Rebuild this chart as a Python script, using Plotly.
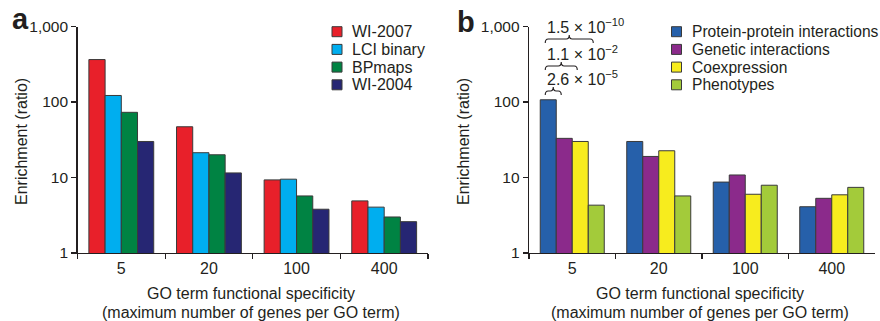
import plotly.graph_objects as go

W, H = 880, 321

categories = ["5", "20", "100", "400"]

# Panel a
series_a = ["WI-2007", "LCI binary", "BPmaps", "WI-2004"]
wi2007 = [365, 47, 9.3, 4.9]
lci_binary = [122, 21.3, 9.5, 4.05]
bpmaps = [73, 20, 5.7, 3.0]
wi2004 = [30, 11.5, 3.8, 2.6]
colors_a = ["#E8202A", "#00AEEF", "#008343", "#262673"]

# Panel b
series_b = ["Protein-protein interactions", "Genetic interactions", "Coexpression", "Phenotypes"]
ppi = [107, 30, 8.7, 4.1]
genetic = [33, 19, 10.8, 5.3]
coexpression = [30, 22.6, 6.0, 5.9]
phenotypes = [4.3, 5.7, 7.9, 7.4]
colors_b = ["#2660AA", "#8B2A8B", "#F7EC1E", "#A3CB3A"]

pvalues = ["2.6 × 10<sup>−5</sup>", "1.1 × 10<sup>−2</sup>", "1.5 × 10<sup>−10</sup>"]

ytickvals = [1, 10, 100, 1000]
yticktext = ["1", "10", "100", "1,000"]

FONT = "Liberation Sans, Arial, sans-serif"
TXT = "#231F20"
EDGE = "#3a3a3a"
BARGAP = 0.26

# pixel layout
ax_a = (77.5, 428.0)
ax_b = (529.0, 875.0)
y_top, y_bot = 26.5, 253.0


def px(x):
    return x / W


def py(y):
    return 1 - y / H


fig = go.Figure()

for name, vals, col in zip(series_a, [wi2007, lci_binary, bpmaps, wi2004], colors_a):
    fig.add_trace(go.Bar(x=categories, y=vals, name=name, marker_color=col,
                         marker_line_color=EDGE, marker_line_width=1,
                         xaxis="x", yaxis="y", showlegend=False))
for name, vals, col in zip(series_b, [ppi, genetic, coexpression, phenotypes], colors_b):
    fig.add_trace(go.Bar(x=categories, y=vals, name=name, marker_color=col,
                         marker_line_color=EDGE, marker_line_width=1,
                         xaxis="x2", yaxis="y2", showlegend=False))

xcommon = dict(type="category", tickson="boundaries", ticks="outside", ticklen=5,
               tickwidth=1.2, tickcolor=TXT, showline=True, linecolor=TXT, linewidth=1.3,
               showgrid=False, zeroline=False, tickfont=dict(size=16, color=TXT, family=FONT),
               fixedrange=True)
ycommon = dict(type="log", range=[0, 3], tickvals=ytickvals, ticktext=yticktext,
               ticks="outside", ticklen=5, tickwidth=1.2, tickcolor=TXT, showline=True,
               linecolor=TXT, linewidth=1.3, showgrid=False, zeroline=False,
               tickfont=dict(size=15.5, color=TXT, family=FONT), fixedrange=True)

fig.update_layout(
    width=W, height=H, margin=dict(l=0, r=0, t=0, b=0, autoexpand=False),
    paper_bgcolor="white", plot_bgcolor="white",
    barmode="group", bargap=BARGAP, bargroupgap=0,
    font=dict(family=FONT, color=TXT),
    xaxis=dict(domain=[px(ax_a[0]), px(ax_a[1])], anchor="y", **xcommon),
    yaxis=dict(domain=[py(y_bot), py(y_top)], anchor="x", **ycommon),
    xaxis2=dict(domain=[px(ax_b[0]), px(ax_b[1])], anchor="y2", **xcommon),
    yaxis2=dict(domain=[py(y_bot), py(y_top)], anchor="x2", **ycommon),
    showlegend=False,
    hovermode=False,
)

ann = []
shapes = []
# panel letters
ann.append(dict(text="<b>a</b>", x=px(10), y=py(37), xanchor="left", yanchor="bottom",
                font=dict(size=29, color=TXT), showarrow=False, xref="paper", yref="paper"))
ann.append(dict(text="<b>b</b>", x=px(455), y=py(40), xanchor="left", yanchor="bottom",
                font=dict(size=29, color=TXT), showarrow=False, xref="paper", yref="paper"))
# axis titles
for (x0, x1), ytx in [(ax_a, 21), (ax_b, 463)]:
    cx = (x0 + x1) / 2
    ann.append(dict(text="GO term functional specificity", x=px(cx - 2), y=py(293),
                    xanchor="center", yanchor="middle", showarrow=False,
                    font=dict(size=16, color=TXT), xref="paper", yref="paper"))
    ann.append(dict(text="(maximum number of genes per GO term)", x=px(cx - 2), y=py(312),
                    xanchor="center", yanchor="middle", showarrow=False,
                    font=dict(size=16, color=TXT), xref="paper", yref="paper"))
    ann.append(dict(text="Enrichment (ratio)", x=px(ytx), y=py(142), textangle=-90,
                    xanchor="center", yanchor="middle", showarrow=False,
                    font=dict(size=16, color=TXT), xref="paper", yref="paper"))

# compact legends (square swatch + label), as in the reference
LEG_ROW0, LEG_DY, SQ = 31.7, 17.7, 10
for names, cols, sq_x, fs in [(series_a, colors_a, 332, 16), (series_b, colors_b, 671.5, 15.6)]:
    for i, (nm, col) in enumerate(zip(names, cols)):
        cy = LEG_ROW0 + i * LEG_DY
        shapes.append(dict(type="rect", xref="paper", yref="paper",
                           x0=px(sq_x), x1=px(sq_x + SQ), y0=py(cy + SQ / 2), y1=py(cy - SQ / 2),
                           fillcolor=col, line=dict(color=EDGE, width=1)))
        ann.append(dict(text=nm, x=px(sq_x + SQ + 8), y=py(cy), xanchor="left",
                        yanchor="middle", showarrow=False, font=dict(size=fs, color=TXT),
                        xref="paper", yref="paper"))

# brackets with p-values (panel b, first group)
catw = (ax_b[1] - ax_b[0]) / len(categories)
barw = catw * (1 - BARGAP) / 4
left0 = ax_b[0] + catw * BARGAP / 2


def barc(j):
    return left0 + barw * (j + 0.5) - 3


brace_y = [(95, 91, 87), (70, 66, 62), (43, 39, 35)]
text_y = [78, 53, 26]
for k, (pv, (yb, ym, yp), ty) in enumerate(zip(pvalues, brace_y, text_y)):
    xa, xb = barc(0), barc(k + 1)
    xm = (xa + xb) / 2
    r = 3
    path = (f"M{px(xa)},{py(yb)} Q{px(xa)},{py(ym)} {px(xa + r)},{py(ym)} "
            f"L{px(xm - r)},{py(ym)} Q{px(xm)},{py(ym)} {px(xm)},{py(yp)} "
            f"Q{px(xm)},{py(ym)} {px(xm + r)},{py(ym)} "
            f"L{px(xb - r)},{py(ym)} Q{px(xb)},{py(ym)} {px(xb)},{py(yb)}")
    shapes.append(dict(type="path", path=path, xref="paper", yref="paper",
                       line=dict(color=TXT, width=1.1)))
    ann.append(dict(text=pv, x=px(545), y=py(ty), xanchor="left", yanchor="middle",
                    showarrow=False, font=dict(size=16, color=TXT),
                    xref="paper", yref="paper"))

fig.update_layout(annotations=ann, shapes=shapes)

fig.write_html("out.html", config={"displayModeBar": False, "staticPlot": True},
               post_script="document.body.style.margin='0px';"
               "document.body.style.overflow='hidden';")
